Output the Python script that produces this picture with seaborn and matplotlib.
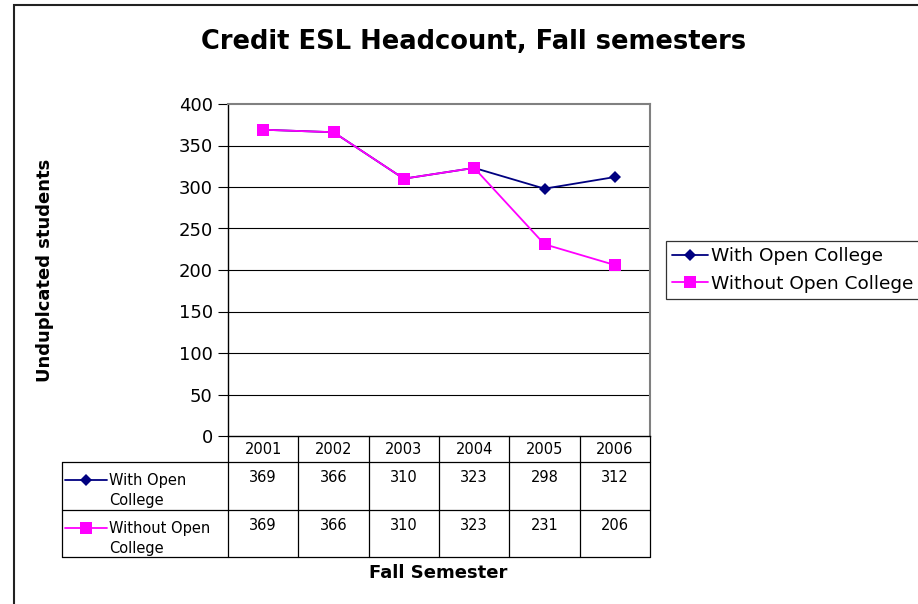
import numpy as np
import pandas as pd
import matplotlib.pyplot as plt
import seaborn as sns
from matplotlib.lines import Line2D
from matplotlib.patches import Rectangle

# ── Data ────────────────────────────────────────────────────────────────────
years = [2001, 2002, 2003, 2004, 2005, 2006]
with_open = [369, 366, 310, 323, 298, 312]
without_open = [369, 366, 310, 323, 231, 206]
series_names = ["With Open College", "Without Open College"]
row_labels = ["With Open\nCollege", "Without Open\nCollege"]
colors = ["#000080", "#FF00FF"]
markers = ["D", "s"]
msizes = [6.3, 9]

df = pd.DataFrame({
    "year": years * 2,
    "value": with_open + without_open,
    "series": [series_names[0]] * len(years) + [series_names[1]] * len(years),
})

sns.set_style("white")
plt.rcParams["font.family"] = ["DejaVu Sans"]
plt.rcParams["text.color"] = "black"
plt.rcParams["ytick.color"] = "black"
plt.rcParams["xtick.color"] = "black"
plt.rcParams["axes.labelcolor"] = "black"

W, H = 918, 604
fig = plt.figure(figsize=(W / 100, H / 100), dpi=100)
ax = fig.add_axes([228 / W, (H - 436) / H, 422 / W, 332 / H])

sns.lineplot(data=df, x="year", y="value", hue="series", style="series",
             palette=colors, markers=markers, dashes=False,
             linewidth=1.3, markeredgewidth=0, ax=ax, legend=False)
for ln, ms in zip(ax.get_lines(), msizes):
    ln.set_markersize(ms)

ax.set_xlim(years[0] - 0.5, years[-1] + 0.5)
ax.set_ylim(0, 400)
ax.set_yticks(np.arange(0, 401, 50))
ax.set_xticks([])
ax.set_xlabel("")
ax.set_ylabel("")
ax.tick_params(axis="y", labelsize=13, length=7, width=0.8, color="black",
               left=True, pad=4)
for v in range(50, 400, 50):
    ax.axhline(v, color="black", lw=0.8, zorder=0)
for s in ["left", "bottom"]:
    ax.spines[s].set_color("black")
    ax.spines[s].set_linewidth(1)
for s in ["top", "right"]:
    ax.spines[s].set_color("#808080")
    ax.spines[s].set_linewidth(1.5)

# ── Data table under the axes ───────────────────────────────────────────────
tr = ax.get_xaxis_transform()
px = 1 / 332
colw = 422 / 6
y_head = -26 * px
y_r1 = -74 * px
y_r2 = -121 * px
x_left = years[0] - 0.5 - 166 / colw
x_right = years[-1] + 0.5
edges = [y - 0.5 for y in years] + [years[-1] + 0.5]

lk = dict(color="black", lw=0.9, transform=tr, clip_on=False)
for xe in edges:
    ax.add_line(Line2D([xe, xe], [0, y_r2], **lk))
ax.add_line(Line2D([x_left, x_left], [y_head, y_r2], **lk))
for yy in [y_head, y_r1, y_r2]:
    ax.add_line(Line2D([x_left, x_right], [yy, yy], **lk))

for yr in years:
    ax.text(yr, -13 * px, str(yr), ha="center", va="center", fontsize=10.5,
            transform=tr)

rows = [with_open, without_open]
row_tops = [y_head, y_r1]
for i, vals in enumerate(rows):
    top = row_tops[i]
    for yr, v in zip(years, vals):
        ax.text(yr, top - 15 * px, str(v), ha="center", va="center",
                fontsize=10.5, transform=tr)
    xs0 = x_left + 3 / colw
    xs1 = x_left + 45 / colw
    ym = top - 18 * px
    ax.add_line(Line2D([xs0, xs1], [ym, ym], color=colors[i], lw=1.3,
                       transform=tr, clip_on=False))
    ax.add_line(Line2D([(xs0 + xs1) / 2], [ym], color=colors[i], lw=0,
                       marker=markers[i], markersize=msizes[i] - 0.3,
                       markeredgewidth=0, transform=tr, clip_on=False))
    ax.text(x_left + 47 / colw, ym, row_labels[i].split("\n")[0],
            ha="left", va="center", fontsize=10.5, transform=tr)
    ax.text(x_left + 47 / colw, ym - 20 * px, row_labels[i].split("\n")[1],
            ha="left", va="center", fontsize=10.5, transform=tr)

# ── Legend ──────────────────────────────────────────────────────────────────
handles = [Line2D([], [], color=colors[i], marker=markers[i], lw=1.3,
                  markersize=msizes[i] - 0.3, markeredgewidth=0)
           for i in range(2)]
leg = fig.legend(handles, series_names, loc="upper left",
                 bbox_to_anchor=(666 / W, 1 - 241 / H), fontsize=13.3,
                 frameon=True, fancybox=False, borderpad=0.35,
                 handlelength=1.95, handletextpad=0.15, labelspacing=0.5,
                 borderaxespad=0)
leg.get_frame().set_edgecolor("black")
leg.get_frame().set_linewidth(0.9)

# ── Titles ──────────────────────────────────────────────────────────────────
fig.text(474 / W, 1 - 42 / H, "Credit ESL Headcount, Fall semesters",
         ha="center", va="center", fontsize=18.5, fontweight="bold")
fig.text(45 / W, 1 - 270 / H, "Unduplcated students", ha="center",
         va="center", rotation=90, fontsize=13, fontweight="bold")
fig.text(438 / W, 1 - 573 / H, "Fall Semester", ha="center", va="center",
         fontsize=13, fontweight="bold")

# outer chart border
fig.patches.append(Rectangle((14 / W, -0.1), 2, 1.1 - 5 / H,
                             transform=fig.transFigure, fill=False,
                             edgecolor="#222222", lw=1.5))

fig.savefig("out.png", dpi=100)
